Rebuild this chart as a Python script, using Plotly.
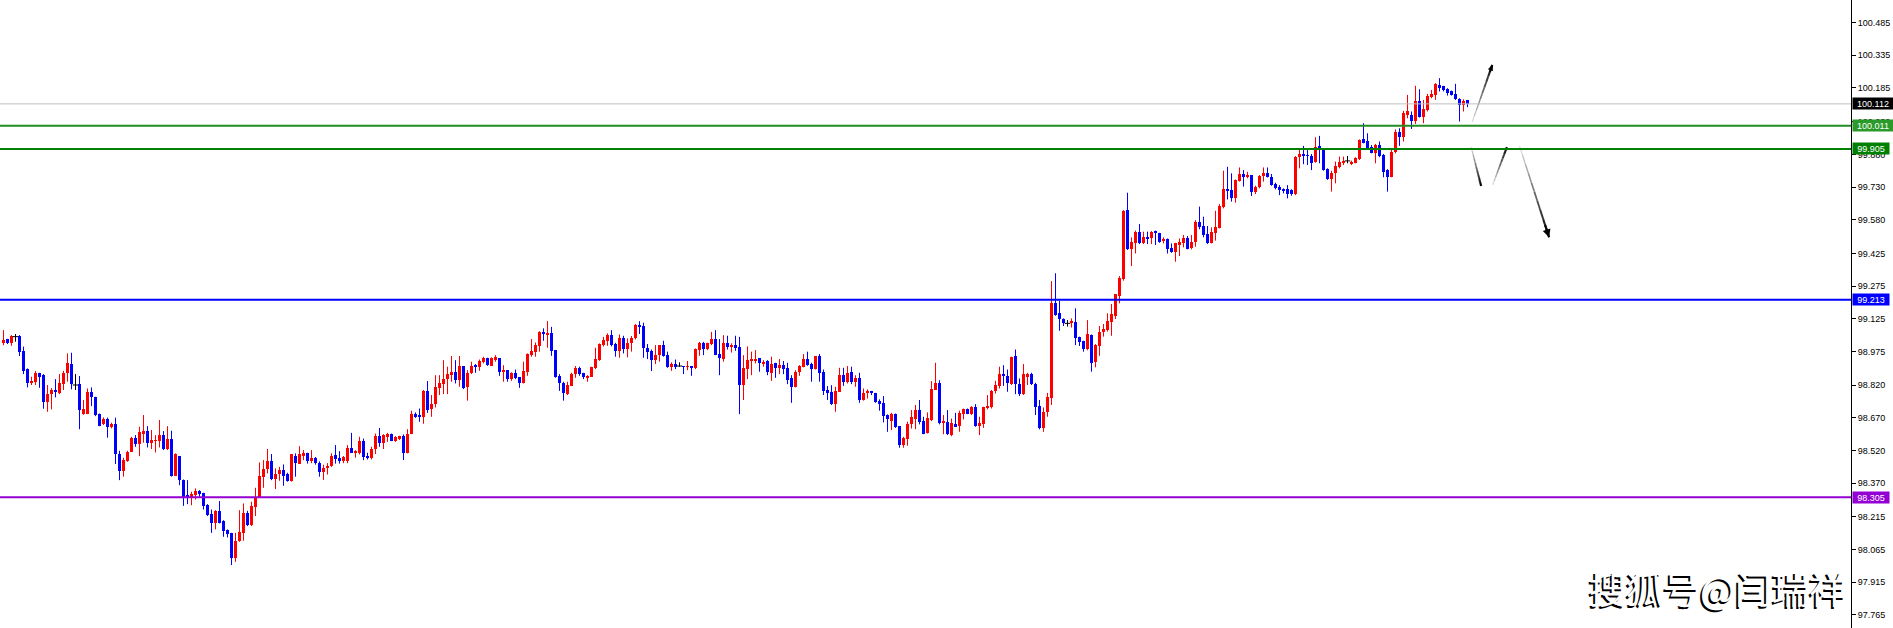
import plotly.graph_objects as go

# ---------------- data ----------------
opens = [
 99.015, 99.030, 99.012, 99.043, 99.046, 98.977, 98.893, 98.831, 98.836, 98.874,
 98.867, 98.744, 98.778, 98.798, 98.782, 98.824, 98.877, 98.917, 98.821, 98.825,
 98.687, 98.687, 98.787, 98.764, 98.687, 98.640, 98.664, 98.628, 98.640, 98.504,
 98.427, 98.473, 98.514, 98.579, 98.548, 98.596, 98.609, 98.556, 98.565, 98.565,
 98.591, 98.527, 98.573, 98.404, 98.494, 98.384, 98.315, 98.308, 98.317, 98.334,
 98.326, 98.269, 98.228, 98.188, 98.242, 98.197, 98.155, 98.142, 98.027, 98.104,
 98.142, 98.234, 98.178, 98.262, 98.305, 98.400, 98.433, 98.471, 98.389, 98.412,
 98.430, 98.410, 98.381, 98.494, 98.458, 98.494, 98.510, 98.470, 98.487, 98.462,
 98.420, 98.440, 98.450, 98.499, 98.487, 98.470, 98.470, 98.533, 98.510, 98.510,
 98.565, 98.494, 98.487, 98.527, 98.588, 98.556, 98.583, 98.595, 98.565, 98.572,
 98.588, 98.510, 98.595, 98.686, 98.683, 98.675, 98.793, 98.710, 98.736, 98.808,
 98.825, 98.847, 98.866, 98.880, 98.843, 98.908, 98.813, 98.874, 98.909, 98.905,
 98.925, 98.943, 98.909, 98.940, 98.943, 98.882, 98.889, 98.848, 98.874, 98.856,
 98.828, 98.882, 98.961, 98.974, 98.998, 99.065, 99.055, 99.062, 98.981, 98.862,
 98.831, 98.779, 98.817, 98.871, 98.900, 98.877, 98.857, 98.859, 98.900, 98.935,
 99.004, 99.024, 99.050, 99.009, 98.977, 99.038, 98.984, 99.016, 99.035, 99.096,
 99.091, 98.993, 98.978, 98.935, 98.961, 99.004, 98.958, 98.905, 98.917, 98.908,
 98.908, 98.905, 98.908, 98.900, 98.981, 99.015, 98.984, 99.007, 99.032, 98.963,
 98.940, 99.015, 98.997, 99.004, 98.997, 98.820, 98.894, 98.935, 98.935, 98.943,
 98.920, 98.931, 98.877, 98.923, 98.897, 98.912, 98.897, 98.854, 98.813, 98.879,
 98.905, 98.940, 98.917, 98.894, 98.954, 98.882, 98.798, 98.790, 98.736, 98.790,
 98.866, 98.836, 98.882, 98.836, 98.854, 98.752, 98.782, 98.794, 98.785, 98.749,
 98.739, 98.684, 98.655, 98.687, 98.632, 98.545, 98.572, 98.641, 98.667, 98.706,
 98.655, 98.601, 98.660, 98.798, 98.831, 98.647, 98.649, 98.591, 98.641, 98.632,
 98.690, 98.710, 98.687, 98.718, 98.632, 98.644, 98.716, 98.718, 98.793, 98.817,
 98.871, 98.863, 98.825, 98.954, 98.825, 98.779, 98.862, 98.871, 98.825, 98.724,
 98.625, 98.695, 98.761, 99.199, 99.153, 99.122, 99.104, 99.107, 99.108, 99.040,
 99.023, 98.984, 99.050, 98.925, 99.001, 99.066, 99.073, 99.112, 99.139, 99.231,
 99.308, 99.624, 99.444, 99.474, 99.525, 99.474, 99.502, 99.494, 99.525, 99.520,
 99.484, 99.490, 99.451, 99.433, 99.468, 99.471, 99.497, 99.448, 99.477, 99.571,
 99.551, 99.514, 99.474, 99.520, 99.543, 99.637, 99.719, 99.716, 99.681, 99.759,
 99.790, 99.774, 99.785, 99.706, 99.729, 99.781, 99.793, 99.778, 99.744, 99.729,
 99.721, 99.719, 99.715, 99.696, 99.867, 99.882, 99.877, 99.873, 99.847, 99.919,
 99.903, 99.812, 99.766, 99.793, 99.824, 99.842, 99.850, 99.835, 99.842, 99.857,
 99.949, 99.942, 99.916, 99.888, 99.923, 99.877, 99.808, 99.778, 99.890, 99.985,
 99.962, 100.061, 100.061, 100.034, 100.126, 100.054, 100.084, 100.143, 100.153, 100.199,
 100.192, 100.179, 100.169, 100.158, 100.133, 100.107, 100.130,
]
highs = [
 99.073, 99.033, 99.050, 99.055, 99.050, 98.997, 98.897, 98.859, 98.885, 98.877,
 98.871, 98.821, 98.807, 98.848, 98.871, 98.886, 98.966, 98.969, 98.871, 98.862,
 98.752, 98.805, 98.810, 98.767, 98.690, 98.672, 98.671, 98.648, 98.671, 98.519,
 98.487, 98.519, 98.583, 98.591, 98.629, 98.683, 98.632, 98.614, 98.591, 98.660,
 98.609, 98.632, 98.611, 98.507, 98.494, 98.387, 98.384, 98.331, 98.346, 98.338,
 98.326, 98.274, 98.249, 98.246, 98.288, 98.200, 98.158, 98.142, 98.142, 98.246,
 98.277, 98.243, 98.285, 98.349, 98.465, 98.476, 98.527, 98.504, 98.438, 98.445,
 98.456, 98.418, 98.504, 98.507, 98.540, 98.522, 98.510, 98.522, 98.490, 98.470,
 98.455, 98.462, 98.507, 98.545, 98.517, 98.495, 98.545, 98.601, 98.522, 98.583,
 98.575, 98.510, 98.537, 98.598, 98.624, 98.595, 98.601, 98.598, 98.586, 98.588,
 98.594, 98.618, 98.703, 98.695, 98.713, 98.798, 98.839, 98.775, 98.866, 98.866,
 98.935, 98.905, 98.954, 98.935, 98.954, 98.908, 98.889, 98.928, 98.917, 98.938,
 98.951, 98.946, 98.948, 98.958, 98.943, 98.912, 98.889, 98.879, 98.892, 98.856,
 98.928, 98.966, 99.032, 99.016, 99.068, 99.081, 99.114, 99.088, 98.981, 98.871,
 98.836, 98.836, 98.877, 98.908, 98.905, 98.877, 98.866, 98.905, 98.992, 99.012,
 99.042, 99.058, 99.073, 99.015, 99.053, 99.047, 99.035, 99.046, 99.101, 99.114,
 99.107, 99.009, 98.984, 99.004, 99.004, 99.024, 98.974, 98.925, 98.938, 98.925,
 98.908, 98.931, 98.908, 98.989, 99.019, 99.019, 99.015, 99.065, 99.073, 99.032,
 99.050, 99.047, 99.012, 99.047, 99.042, 98.958, 98.998, 98.974, 98.981, 98.943,
 98.935, 98.935, 98.951, 98.923, 98.940, 98.931, 98.923, 98.866, 98.889, 98.912,
 98.963, 98.974, 98.923, 98.954, 98.963, 98.892, 98.816, 98.820, 98.813, 98.900,
 98.900, 98.908, 98.905, 98.866, 98.877, 98.805, 98.801, 98.794, 98.785, 98.755,
 98.770, 98.686, 98.693, 98.690, 98.632, 98.583, 98.652, 98.706, 98.729, 98.752,
 98.675, 98.695, 98.839, 98.923, 98.843, 98.683, 98.706, 98.667, 98.693, 98.703,
 98.713, 98.713, 98.724, 98.733, 98.675, 98.721, 98.775, 98.798, 98.840, 98.905,
 98.912, 98.892, 98.951, 98.984, 98.851, 98.917, 98.877, 98.877, 98.831, 98.752,
 98.718, 98.785, 99.298, 99.334, 99.208, 99.127, 99.119, 99.127, 99.173, 99.043,
 99.024, 99.119, 99.053, 99.009, 99.092, 99.101, 99.150, 99.193, 99.238, 99.321,
 99.624, 99.704, 99.499, 99.530, 99.560, 99.525, 99.525, 99.528, 99.530, 99.520,
 99.499, 99.494, 99.471, 99.474, 99.494, 99.510, 99.505, 99.510, 99.578, 99.640,
 99.594, 99.551, 99.545, 99.621, 99.652, 99.805, 99.823, 99.793, 99.765, 99.820,
 99.808, 99.800, 99.785, 99.736, 99.785, 99.820, 99.820, 99.790, 99.750, 99.739,
 99.724, 99.739, 99.720, 99.872, 99.900, 99.919, 99.900, 99.882, 99.959, 99.965,
 99.903, 99.816, 99.805, 99.847, 99.870, 99.870, 99.873, 99.851, 99.867, 99.949,
 100.023, 99.977, 99.923, 99.928, 99.939, 99.882, 99.812, 99.900, 99.995, 100.000,
 100.080, 100.153, 100.077, 100.195, 100.179, 100.130, 100.158, 100.176, 100.207, 100.230,
 100.195, 100.184, 100.173, 100.204, 100.138, 100.133, 100.130,
]
lows = [
 99.004, 99.009, 99.001, 99.020, 98.954, 98.871, 98.810, 98.821, 98.821, 98.808,
 98.712, 98.698, 98.709, 98.764, 98.779, 98.798, 98.836, 98.801, 98.798, 98.618,
 98.684, 98.687, 98.724, 98.678, 98.632, 98.637, 98.579, 98.622, 98.458, 98.384,
 98.400, 98.468, 98.514, 98.537, 98.494, 98.556, 98.534, 98.527, 98.511, 98.534,
 98.522, 98.522, 98.400, 98.403, 98.361, 98.266, 98.274, 98.269, 98.295, 98.308,
 98.249, 98.219, 98.142, 98.158, 98.185, 98.124, 98.121, 97.994, 98.009, 98.101,
 98.106, 98.173, 98.173, 98.219, 98.302, 98.349, 98.415, 98.384, 98.343, 98.381,
 98.358, 98.377, 98.377, 98.400, 98.458, 98.476, 98.460, 98.462, 98.455, 98.400,
 98.385, 98.410, 98.445, 98.460, 98.460, 98.462, 98.462, 98.510, 98.487, 98.502,
 98.476, 98.479, 98.479, 98.504, 98.537, 98.527, 98.560, 98.563, 98.560, 98.568,
 98.476, 98.507, 98.595, 98.670, 98.652, 98.643, 98.693, 98.675, 98.718, 98.775,
 98.779, 98.779, 98.836, 98.828, 98.813, 98.802, 98.749, 98.871, 98.877, 98.886,
 98.920, 98.909, 98.908, 98.928, 98.863, 98.836, 98.836, 98.840, 98.848, 98.808,
 98.828, 98.863, 98.951, 98.951, 98.974, 99.024, 98.992, 98.955, 98.854, 98.794,
 98.749, 98.775, 98.816, 98.854, 98.863, 98.848, 98.836, 98.859, 98.894, 98.932,
 98.998, 99.001, 98.998, 98.951, 98.946, 98.966, 98.948, 98.974, 99.030, 99.055,
 98.946, 98.940, 98.885, 98.917, 98.928, 98.951, 98.900, 98.886, 98.894, 98.905,
 98.871, 98.889, 98.863, 98.894, 98.955, 98.958, 98.981, 99.004, 98.958, 98.866,
 98.928, 98.984, 98.970, 98.978, 98.687, 98.752, 98.848, 98.866, 98.920, 98.882,
 98.905, 98.866, 98.840, 98.854, 98.871, 98.871, 98.825, 98.739, 98.810, 98.863,
 98.902, 98.909, 98.836, 98.892, 98.836, 98.775, 98.752, 98.729, 98.698, 98.790,
 98.817, 98.828, 98.825, 98.813, 98.739, 98.749, 98.759, 98.775, 98.739, 98.703,
 98.649, 98.606, 98.614, 98.624, 98.533, 98.533, 98.542, 98.621, 98.618, 98.640,
 98.595, 98.598, 98.655, 98.798, 98.640, 98.595, 98.591, 98.586, 98.629, 98.606,
 98.663, 98.687, 98.683, 98.629, 98.591, 98.624, 98.709, 98.713, 98.782, 98.805,
 98.817, 98.790, 98.821, 98.779, 98.770, 98.775, 98.821, 98.821, 98.683, 98.617,
 98.606, 98.675, 98.729, 99.139, 99.070, 99.092, 99.089, 99.085, 99.004, 99.000,
 98.974, 98.981, 98.882, 98.902, 98.955, 99.043, 99.066, 99.047, 99.124, 99.196,
 99.300, 99.441, 99.367, 99.425, 99.468, 99.468, 99.468, 99.468, 99.464, 99.474,
 99.471, 99.425, 99.428, 99.387, 99.413, 99.453, 99.444, 99.444, 99.456, 99.536,
 99.499, 99.468, 99.471, 99.484, 99.540, 99.632, 99.673, 99.663, 99.658, 99.755,
 99.732, 99.770, 99.689, 99.698, 99.724, 99.755, 99.774, 99.736, 99.719, 99.693,
 99.701, 99.678, 99.690, 99.693, 99.816, 99.835, 99.831, 99.808, 99.842, 99.839,
 99.805, 99.763, 99.709, 99.747, 99.816, 99.831, 99.839, 99.831, 99.839, 99.854,
 99.931, 99.908, 99.885, 99.839, 99.867, 99.775, 99.709, 99.775, 99.885, 99.919,
 99.939, 100.046, 99.997, 100.020, 100.049, 100.023, 100.077, 100.138, 100.130, 100.169,
 100.169, 100.150, 100.150, 100.130, 100.031, 100.077, 100.097,
]
closes = [
 99.027, 99.012, 99.046, 99.043, 98.974, 98.885, 98.831, 98.841, 98.874, 98.859,
 98.744, 98.779, 98.798, 98.790, 98.828, 98.877, 98.920, 98.824, 98.821, 98.706,
 98.710, 98.787, 98.764, 98.683, 98.632, 98.664, 98.629, 98.640, 98.504, 98.427,
 98.476, 98.514, 98.579, 98.550, 98.606, 98.609, 98.556, 98.568, 98.568, 98.591,
 98.527, 98.573, 98.404, 98.504, 98.384, 98.308, 98.305, 98.320, 98.334, 98.320,
 98.265, 98.223, 98.188, 98.243, 98.188, 98.150, 98.139, 98.027, 98.106, 98.147,
 98.234, 98.178, 98.265, 98.308, 98.403, 98.435, 98.471, 98.389, 98.412, 98.430,
 98.404, 98.380, 98.504, 98.461, 98.504, 98.507, 98.470, 98.487, 98.462, 98.420,
 98.440, 98.450, 98.494, 98.481, 98.470, 98.491, 98.533, 98.510, 98.517, 98.565,
 98.491, 98.487, 98.527, 98.588, 98.556, 98.591, 98.595, 98.565, 98.583, 98.586,
 98.507, 98.598, 98.687, 98.678, 98.675, 98.794, 98.706, 98.736, 98.810, 98.828,
 98.847, 98.871, 98.880, 98.843, 98.908, 98.808, 98.877, 98.908, 98.905, 98.931,
 98.943, 98.912, 98.943, 98.949, 98.882, 98.889, 98.848, 98.874, 98.854, 98.828,
 98.885, 98.963, 98.977, 99.004, 99.065, 99.055, 99.062, 98.978, 98.859, 98.828,
 98.782, 98.820, 98.871, 98.900, 98.871, 98.856, 98.860, 98.902, 98.940, 99.009,
 99.027, 99.050, 99.004, 98.977, 99.038, 98.984, 99.016, 99.038, 99.096, 99.088,
 98.992, 98.974, 98.935, 98.961, 99.004, 98.955, 98.905, 98.917, 98.905, 98.908,
 98.905, 98.908, 98.900, 98.986, 99.015, 98.984, 99.015, 99.032, 98.961, 98.943,
 99.015, 98.997, 99.004, 98.992, 98.820, 98.900, 98.935, 98.938, 98.940, 98.920,
 98.928, 98.882, 98.917, 98.900, 98.912, 98.894, 98.843, 98.813, 98.882, 98.909,
 98.940, 98.912, 98.894, 98.954, 98.877, 98.793, 98.785, 98.733, 98.793, 98.866,
 98.836, 98.877, 98.836, 98.854, 98.752, 98.785, 98.794, 98.782, 98.744, 98.736,
 98.680, 98.663, 98.687, 98.629, 98.545, 98.579, 98.644, 98.675, 98.706, 98.652,
 98.598, 98.670, 98.802, 98.831, 98.647, 98.655, 98.594, 98.647, 98.632, 98.693,
 98.710, 98.690, 98.718, 98.632, 98.647, 98.718, 98.724, 98.793, 98.820, 98.871,
 98.863, 98.831, 98.948, 98.825, 98.779, 98.871, 98.871, 98.825, 98.718, 98.625,
 98.695, 98.764, 99.199, 99.142, 99.122, 99.104, 99.104, 99.115, 99.038, 99.020,
 98.984, 99.055, 98.920, 99.004, 99.066, 99.076, 99.115, 99.145, 99.237, 99.314,
 99.621, 99.444, 99.479, 99.525, 99.474, 99.499, 99.494, 99.525, 99.520, 99.479,
 99.491, 99.447, 99.433, 99.474, 99.476, 99.497, 99.447, 99.479, 99.571, 99.548,
 99.510, 99.471, 99.525, 99.545, 99.643, 99.719, 99.713, 99.681, 99.762, 99.790,
 99.774, 99.785, 99.709, 99.732, 99.782, 99.793, 99.778, 99.739, 99.724, 99.716,
 99.713, 99.698, 99.698, 99.869, 99.882, 99.874, 99.873, 99.842, 99.916, 99.911,
 99.808, 99.766, 99.796, 99.827, 99.844, 99.847, 99.850, 99.847, 99.865, 99.946,
 99.934, 99.911, 99.888, 99.923, 99.873, 99.801, 99.778, 99.893, 99.985, 99.962,
 100.072, 100.077, 100.034, 100.126, 100.054, 100.087, 100.150, 100.158, 100.202, 100.187,
 100.176, 100.161, 100.153, 100.133, 100.107, 100.127, 100.112,
]

tick_labels = ["100.485", "100.335", "100.185", "100.030", "99.880", "99.730",
               "99.580", "99.425", "99.275", "99.125", "98.975", "98.820",
               "98.670", "98.520", "98.370", "98.215", "98.065", "97.915", "97.765"]

level_prices = [100.112, 100.011, 99.905, 99.213, 98.305]
level_texts = ["100.112", "100.011", "99.905", "99.213", "98.305"]
level_line_colors = ["#C0C0C0", "#228B22", "#008000", "#0000FF", "#9400D3"]
level_box_colors = ["#000000", "#2A9A2A", "#008000", "#0000FF", "#9400D3"]
level_widths = [1, 2, 2, 2, 2]

# hand-drawn arrows on the chart, in (bar index, price)
arrow_x0 = [367.2, 366.9, 372.3, 379.0]
arrow_y0 = [100.030, 99.915, 99.740, 99.919]
arrow_x1 = [372.2, 369.4, 375.85, 386.4]
arrow_y1 = [100.291, 99.735, 99.913, 99.499]
arrow_head = [True, False, False, True]
arrow_head_size = [0.55, 0, 0, 0.8]

watermark = "搜狐号@闫瑞祥"

# ---------------- figure ----------------
fig = go.Figure()
n = len(closes)
idx = list(range(n))

for kind, color in (("up", "#FF0000"), ("down", "#0000FF")):
    if kind == "up":
        ii = [i for i in idx if closes[i] > opens[i]]
    else:
        ii = [i for i in idx if closes[i] < opens[i]]
    wx, wy = [], []
    for i in ii:
        wx += [i, i, None]
        wy += [lows[i], highs[i], None]
    fig.add_trace(go.Scatter(x=wx, y=wy, mode="lines",
                             line=dict(color=color, width=1),
                             hoverinfo="skip", showlegend=False))
    fig.add_trace(go.Bar(x=ii,
                         y=[abs(closes[i] - opens[i]) for i in ii],
                         base=[min(opens[i], closes[i]) for i in ii],
                         width=0.75,
                         marker=dict(color=color, line=dict(width=0)),
                         hoverinfo="skip", showlegend=False))

# doji candles in black
dj = [i for i in idx if closes[i] == opens[i]]
wx, wy = [], []
for i in dj:
    wx += [i, i, None]
    wy += [lows[i], highs[i], None]
fig.add_trace(go.Scatter(x=wx, y=wy, mode="lines", line=dict(color="black", width=1),
                         hoverinfo="skip", showlegend=False))
fig.add_trace(go.Scatter(x=dj, y=[closes[i] for i in dj], mode="markers",
                         marker=dict(symbol="line-ew", size=4,
                                     line=dict(color="black", width=1)),
                         hoverinfo="skip", showlegend=False))

# horizontal levels
for p, c, w in zip(level_prices, level_line_colors, level_widths):
    fig.add_shape(type="line", xref="paper", x0=0, x1=1, yref="y", y0=p, y1=p,
                  line=dict(color=c, width=w), layer="above")

# price labels on the axis
for p, t, c in zip(level_prices, level_texts, level_box_colors):
    fig.add_annotation(x=1, xref="paper", xanchor="left", xshift=1,
                       y=p, yref="y", yanchor="middle",
                       text=t, showarrow=False, bgcolor=c,
                       width=40 if len(t) == 7 else 36, height=11,
                       borderpad=0, align="center",
                       font=dict(family="Liberation Sans", size=9, color="white"))

# gradient arrows
steps = 10
for x0, y0, x1, y1, head, hs in zip(arrow_x0, arrow_y0, arrow_x1, arrow_y1,
                                    arrow_head, arrow_head_size):
    for k in range(steps):
        t0, t1 = k / steps, (k + 1) / steps
        g = int(225 * (1 - (k + 0.5) / steps))
        fig.add_trace(go.Scatter(
            x=[x0 + (x1 - x0) * t0, x0 + (x1 - x0) * t1],
            y=[y0 + (y1 - y0) * t0, y0 + (y1 - y0) * t1],
            mode="lines",
            line=dict(color=f"rgb({g},{g},{g})", width=1 + 1.2 * t1),
            hoverinfo="skip", showlegend=False))
    if head:
        fig.add_annotation(x=x1, y=y1, xref="x", yref="y",
                           ax=x0 + (x1 - x0) * 0.85, ay=y0 + (y1 - y0) * 0.85,
                           axref="x", ayref="y", text="", showarrow=True,
                           arrowhead=2, arrowsize=hs, arrowwidth=2,
                           arrowcolor="black")

# watermark
fig.add_annotation(x=1717 / 1851, y=1 - 588 / 628, xref="paper", yref="paper",
                   xanchor="center", yanchor="middle", text=watermark,
                   showarrow=False,
                   font=dict(family="Noto Sans CJK SC", size=37, color="white",
                             shadow="-2px 2px 0px #000000"))

fig.update_layout(
    width=1893, height=628,
    margin=dict(l=0, r=42, t=0, b=0, pad=0),
    paper_bgcolor="white", plot_bgcolor="white",
    barmode="overlay", bargap=0,
    showlegend=False,
    xaxis=dict(range=[-0.875, 461.875], visible=False, fixedrange=True),
    yaxis=dict(side="right", range=[97.705, 100.589],
               tickvals=[float(t) for t in tick_labels], ticktext=tick_labels,
               ticks="outside", ticklen=4, tickcolor="black", tickwidth=1,
               showline=True, linecolor="black", linewidth=1,
               showgrid=False, zeroline=False, fixedrange=True,
               tickfont=dict(family="Liberation Sans", size=9, color="black")),
)

fig.write_html("out.html", config={"displayModeBar": False},
               post_script="document.body.style.margin='0';document.body.style.overflow='hidden';")
